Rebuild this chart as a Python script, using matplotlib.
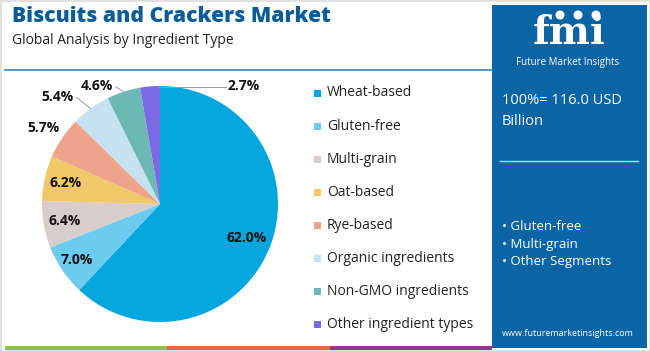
import numpy as np
import matplotlib

matplotlib.use("Agg")
import matplotlib.pyplot as plt
from matplotlib.patches import Rectangle

plt.rcParams["font.family"] = ["Open Sans", "DejaVu Sans"]

# data
segments = [
    "Wheat-based",
    "Gluten-free",
    "Multi-grain",
    "Oat-based",
    "Rye-based",
    "Organic ingredients",
    "Non-GMO ingredients",
    "Other ingredient types",
]
shares = [62.0, 7.0, 6.4, 6.2, 5.7, 5.4, 4.6, 2.7]
colors = ["#03a6dd", "#6ccbef", "#d9cdcc", "#f0c86a", "#eda48a",
          "#c6e2f2", "#6bb9b4", "#7a6ae4"]
market_size = "100%= 116.0 USD\nBillion"
key_segments = ["Gluten-free", "Multi-grain", "Other Segments"]

W, H = 650, 351
fig = plt.figure(figsize=(W / 100, H / 100), dpi=100)
ax = fig.add_axes([0, 0, 1, 1])


def top(y):
    return H - y


# pie
cx, cy, R = 160, top(204), 118
wedges, _ = ax.pie(shares, colors=colors, startangle=90, counterclock=False,
                   center=(cx, cy), radius=R, frame=True,
                   wedgeprops=dict(linewidth=0))
ax.set_xlim(0, W)
ax.set_ylim(0, H)
ax.axis("off")

# frame
ax.add_patch(Rectangle((0.5, 0.5), W - 1, H - 1, fill=False, ec="#dcdcdc", lw=1.2))

# title block
ax.text(12, top(17), "Biscuits and Crackers Market", fontsize=15.2, fontweight="heavy",
        color="#0b5d99", va="center", ha="left")
ax.text(12, top(40), "Global Analysis by Ingredient Type", fontsize=10,
        color="#222222", va="center", ha="left")
ax.plot([5, 492], [top(70), top(70)], color="#3a84b8", lw=1.2)

# bottom strip
strip_cols = ["#8cc152", "#e9643b", "#8e3b8f"]
seg_w = (492 - 5) / 3
for i, c in enumerate(strip_cols):
    ax.add_patch(Rectangle((5 + i * seg_w, top(350)), seg_w, 4, color=c, lw=0))

# slice labels
inside = {0: 0.79, 1: 0.85, 2: 0.82, 3: 0.82}
outside = {4: (-19, 10), 5: (-33, 12), 6: (-27, 6)}
for i, w in enumerate(wedges):
    mid = np.deg2rad((w.theta1 + w.theta2) / 2)
    label = f"{shares[i]:.1f}%"
    ex, ey = cx + R * np.cos(mid), cy + R * np.sin(mid)
    if i in inside:
        r = inside[i] * R
        ax.text(cx + r * np.cos(mid), cy + r * np.sin(mid), label, fontsize=10,
                fontweight="bold", ha="center", va="center", color="#111111")
    elif i == 7:
        ax.plot([ex + 8, ex + 76], [ey - 1, ey - 1], color="#9a9a9a", lw=0.7)
        ax.text(ex + 78, ey, label, fontsize=10, fontweight="bold",
                ha="left", va="center", color="#111111")
    else:
        dx, dy = outside[i]
        tx, ty = ex + dx, ey + dy
        if i in (5, 6):
            ax.plot([tx + 19, ex], [ty - 1, ey], color="#9a9a9a", lw=0.7)
        ax.text(tx, ty, label, fontsize=10, fontweight="bold",
                ha="center", va="center", color="#111111")

# legend
for i, (name, c) in enumerate(zip(segments, colors)):
    y = top(93 + i * 33.1)
    ax.add_patch(Rectangle((314, y - 3.5), 7, 7, color=c, lw=0))
    ax.text(327, y, name, fontsize=10, color="#222222", ha="left", va="center")

# side panel
ax.add_patch(Rectangle((492, top(348)), 155, 343, color="#0b64a3", lw=0))
ax.text(569, top(33), "fmi", fontsize=28, fontweight="bold", family="DejaVu Serif",
        color="white", ha="center", va="center")
for yy in range(22, 50, 4):
    ax.plot([518, 622], [top(yy), top(yy)], color="#0b64a3", lw=0.8)
for x0 in (560, 578, 596):
    ax.add_patch(plt.Circle((x0, top(15)), 4.5, color="white", lw=0))
ax.text(568, top(62), "Future Market Insights", fontsize=7, color="white",
        ha="center", va="center")
ax.text(502, top(111), market_size, fontsize=10.5, color="white", ha="left",
        va="center", linespacing=1.6)
ax.plot([500, 638], [top(161), top(161)], color="#c9d6e2", lw=1)
for i, s in enumerate(key_segments):
    ax.text(502, top(227 + i * 17.5), "\u2022 " + s, fontsize=9.5, color="white",
            ha="left", va="center")
ax.text(568, top(333), "www.futuremarketinsights.com", fontsize=6.5, color="white",
        ha="center", va="center")

fig.savefig("out.png", dpi=100)
